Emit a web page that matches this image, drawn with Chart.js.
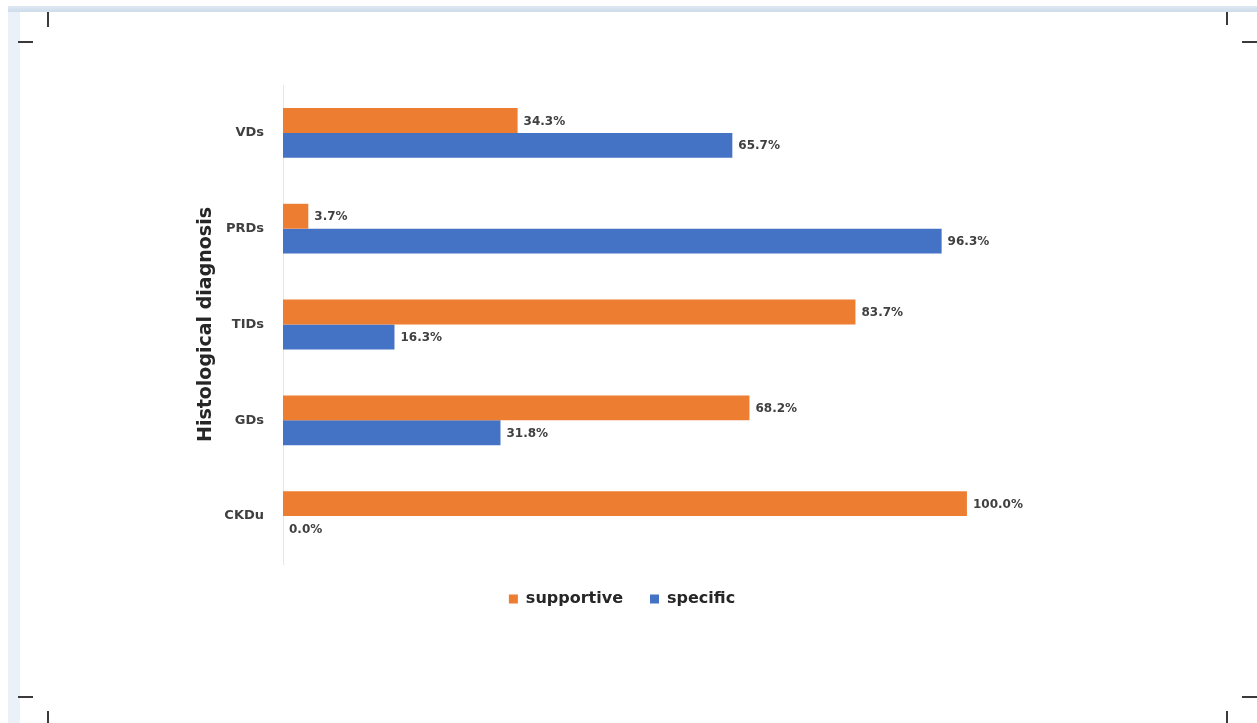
<!DOCTYPE html>
<html>
<head>
<meta charset="utf-8">
<script src="https://cdn.jsdelivr.net/npm/chart.js@4.4.0/dist/chart.umd.min.js"></script>
<style>
  html, body { margin: 0; padding: 0; background: #fff; }
  body { width: 1257px; height: 723px; position: relative; overflow: hidden; }
  .topband { position: absolute; left: 8px; top: 6px; width: 1249px; height: 6px; background: linear-gradient(#dfe8f3, #cddbeb); }
  .leftband { position: absolute; left: 8px; top: 12px; width: 12px; height: 711px; background: #eaf1f9; }
  .mark { position: absolute; background: #3a3a3a; }
  #wrap { position: absolute; left: 0; top: 0; width: 1257px; height: 723px; }
</style>
</head>
<body>
<div class="topband"></div>
<div class="leftband"></div>
<div class="mark" style="left:47px;top:12px;width:2px;height:15px"></div>
<div class="mark" style="left:18px;top:41px;width:15px;height:2px"></div>
<div class="mark" style="left:1226px;top:12px;width:2px;height:13px"></div>
<div class="mark" style="left:1242px;top:41px;width:15px;height:2px"></div>
<div class="mark" style="left:18px;top:696px;width:15px;height:2px"></div>
<div class="mark" style="left:47px;top:711px;width:2px;height:12px"></div>
<div class="mark" style="left:1242px;top:696px;width:15px;height:2px"></div>
<div class="mark" style="left:1226px;top:711px;width:2px;height:12px"></div>
<div id="wrap"><canvas id="histoChart"></canvas></div>
<script>
// categories (top to bottom) and percentages per series
const categories = ['VDs', 'PRDs', 'TIDs', 'GDs', 'CKDu'];
const supportive = [34.3, 3.7, 83.7, 68.2, 100.0];
const specific = [65.7, 96.3, 16.3, 31.8, 0.0];
const seriesNames = ['supportive', 'specific'];

const orange = '#ED7D31';
const blue = '#4472C4';

// labels like "34.3%" at the end of each bar
const barLabels = {
    id: 'barLabels',
    afterDatasetsDraw(chart) {
        const ctx = chart.ctx;
        ctx.save();
        ctx.font = 'bold 12px "DejaVu Sans"';
        ctx.fillStyle = '#404040';
        ctx.textBaseline = 'middle';
        ctx.textAlign = 'left';
        chart.data.datasets.forEach((ds, i) => {
            chart.getDatasetMeta(i).data.forEach((bar, j) => {
                ctx.fillText(ds.data[j].toFixed(1) + '%', bar.x + 6, bar.y + 1);
            });
        });
        ctx.restore();
    }
};

const ctx = document.getElementById('histoChart').getContext('2d');
new Chart(ctx, {
    type: 'bar',
    data: {
        labels: categories,
        datasets: [
            { label: seriesNames[0], data: supportive, backgroundColor: orange },
            { label: seriesNames[1], data: specific, backgroundColor: blue }
        ]
    },
    options: {
        indexAxis: 'y',
        responsive: true,
        maintainAspectRatio: false,
        animation: false,
        categoryPercentage: 0.52,
        barPercentage: 1.0,
        layout: { padding: { left: 195, right: 208, top: 85, bottom: 106 } },
        scales: {
            x: { display: false, min: 0, max: 112 },
            y: {
                afterFit(scale) { scale.width = 88; },
                grid: { display: false, drawTicks: false },
                border: { display: true, color: '#e6e6e6', width: 1 },
                ticks: {
                    padding: 19,
                    color: '#404040',
                    font: { family: 'DejaVu Sans', size: 13, weight: 'bold' }
                },
                title: {
                    display: true,
                    text: 'Histological diagnosis',
                    color: '#262626',
                    padding: 0,
                    font: { family: 'DejaVu Sans', size: 19, weight: 'bold' }
                }
            }
        },
        plugins: {
            legend: {
                position: 'bottom',
                labels: {
                    boxWidth: 9,
                    boxHeight: 9,
                    padding: 27,
                    color: '#262626',
                    font: { family: 'DejaVu Sans', size: 16, weight: 'bold' }
                }
            },
            tooltip: { enabled: false }
        }
    },
    plugins: [barLabels]
});
</script>
</body>
</html>
